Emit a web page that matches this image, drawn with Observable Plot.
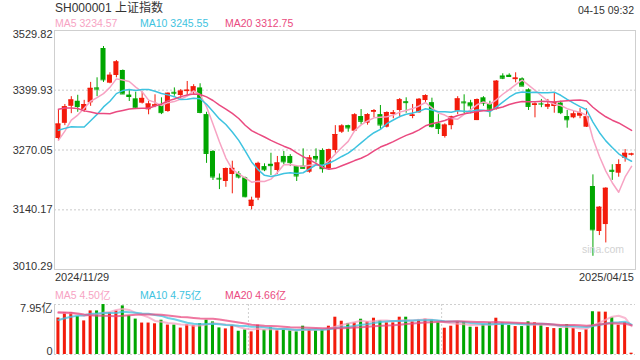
<!DOCTYPE html>
<html><head><meta charset="utf-8">
<script src="https://cdn.jsdelivr.net/npm/d3@7"></script>
<script src="https://cdn.jsdelivr.net/npm/@observablehq/plot@0.6"></script>
<style>
html,body{margin:0;padding:0;background:#fff;}
#wrap{position:relative;width:640px;height:360px;overflow:hidden;font-family:"Liberation Sans",Arial,"Noto Sans CJK SC",sans-serif;color:#333;}
.t{position:absolute;white-space:nowrap;line-height:14px;}
#main{position:absolute;left:0;top:28px;}
#vol{position:absolute;left:0;top:300px;}
</style></head><body>
<div id="wrap">
  <div id="main"></div>
  <div id="vol"></div>
  <div class="t" style="left:55px;top:1px;font-size:12px;color:#333">SH000001 上证指数</div>
  <div class="t" style="right:6px;top:3px;font-size:10.5px;color:#333">04-15 09:32</div>
  <div class="t" id="leg1" style="left:0;top:16px;font-size:10.5px;width:640px"></div>
  <div class="t" style="left:55px;top:270px;font-size:11px;color:#333" id="d0"></div>
  <div class="t" style="right:6px;top:270px;font-size:11px;color:#333" id="d1"></div>
  <div class="t" id="leg2" style="left:0;top:288px;font-size:10.5px;width:640px"></div>
  <div class="t" style="left:582px;top:242px;font-size:10.5px;color:#d2d2d2">sina.com</div>
</div>
<script>
// ---------- data ----------
const dates = [
"2024-11-29",
"2024-12-02","2024-12-03","2024-12-04","2024-12-05","2024-12-06",
"2024-12-09","2024-12-10","2024-12-11","2024-12-12","2024-12-13",
"2024-12-16","2024-12-17","2024-12-18","2024-12-19","2024-12-20",
"2024-12-23","2024-12-24","2024-12-25","2024-12-26","2024-12-27",
"2024-12-30","2024-12-31",
"2025-01-02","2025-01-03",
"2025-01-06","2025-01-07","2025-01-08","2025-01-09","2025-01-10",
"2025-01-13","2025-01-14","2025-01-15","2025-01-16","2025-01-17",
"2025-01-20","2025-01-21","2025-01-22","2025-01-23","2025-01-24",
"2025-01-27",
"2025-02-05","2025-02-06","2025-02-07",
"2025-02-10","2025-02-11","2025-02-12","2025-02-13","2025-02-14",
"2025-02-17","2025-02-18","2025-02-19","2025-02-20","2025-02-21",
"2025-02-24","2025-02-25","2025-02-26","2025-02-27","2025-02-28",
"2025-03-03","2025-03-04","2025-03-05","2025-03-06","2025-03-07",
"2025-03-10","2025-03-11","2025-03-12","2025-03-13","2025-03-14",
"2025-03-17","2025-03-18","2025-03-19","2025-03-20","2025-03-21",
"2025-03-24","2025-03-25","2025-03-26","2025-03-27","2025-03-28",
"2025-03-31",
"2025-04-01","2025-04-02","2025-04-03",
"2025-04-07","2025-04-08","2025-04-09","2025-04-10","2025-04-11",
"2025-04-14","2025-04-15"];

const open = [3295,3328,3365,3376,3356,3372.6,3405,3490.7,3415.3,3432,
 3442.9,3389.5,3381.3,3371.8,3357.4,3365,3366.8,3353.7,3395.5,3388.5,
 3397,3395.7,3405,3347,3266.8,3208.5,3201.6,3216.8,3218,3209.6,
 3147.2,3165.3,3234,3239,3225.5,3256,3256,3234,3235,3221.8,
 3256,3269,3229,3269,3308.7,3323,3310.9,3342.8,3328.3,3352,
 3347,3319.6,3347,3355.9,3375,3343,3350.9,3377.6,3373,3327,
 3299.4,3323,3354.4,3374.5,3372.6,3334,3383.5,3370.5,3358,3431,
 3432.5,3423,3424.8,3400.9,3366.8,3370.5,3363,3364.6,3372,3342.8,
 3340,3343.5,3319.6,3190.7,3092.9,3108,3226,3219.6,3252,3259];

const high = [3358,3369,3386,3389,3378,3417,3427,3495,3438,3464.6,
 3444,3399.4,3395.7,3396,3376,3390,3383.5,3394,3405,3401.5,
 3419,3412,3414,3352,3269,3218,3231,3245.7,3223,3211,
 3167.5,3243.6,3240,3263,3256,3266.8,3260,3236,3272.6,3258,
 3272.6,3272.6,3272,3323,3325,3324,3349,3358,3349,3358,
 3366.8,3353,3355.9,3382,3383.5,3369,3382,3390,3382.7,3347,
 3327,3343.5,3386,3390,3378,3381,3386,3376,3421,3435.7,
 3435.7,3437.9,3427,3403,3372.6,3380,3380,3393.5,3376,3356,
 3354,3360,3359.6,3216,3147,3188,3238,3248.7,3271,3263];

const low = [3290,3323,3349,3352,3352,3365,3386,3417,3414,3427,
 3391,3375.5,3358,3370,3346.6,3362,3347,3352,3387,3381,
 3388.5,3390,3348.8,3241,3203.8,3184,3189,3174.8,3207,3166,
 3140,3160,3223,3214.6,3217,3238.5,3234,3201.6,3229,3219.6,
 3242,3219.6,3226,3263,3306,3308.7,3310,3325,3324,3340,
 3314,3318,3338,3340,3350,3338,3350,3372,3318,3303.7,
 3296,3314,3347,3349,3349,3334,3365,3341,3357,3423,
 3428,3416,3408,3356,3340,3362,3358,3350,3347,3317.5,
 3338,3338,3319,3039,3084,3068,3204,3210.9,3243.6,3257];

const close = [3326.46,3363.98,3378.81,3364.65,3368.86,3404.08,3402.53,3422.66,3432.49,3461.50,
 3391.88,3386.33,3361.49,3382.21,3370.03,3368.07,3351.26,3393.35,3393.53,3398.08,
 3400.14,3407.33,3351.76,3262.56,3211.43,3206.92,3229.64,3230.17,3211.39,3168.52,
 3160.76,3240.94,3227.12,3236.03,3241.82,3244.38,3242.62,3213.62,3230.16,3252.63,
 3250.60,3229.49,3270.66,3303.67,3322.17,3318.06,3346.39,3332.48,3346.72,3355.83,
 3324.49,3351.54,3350.78,3379.11,3373.03,3346.04,3380.21,3388.06,3320.90,3316.93,
 3324.21,3341.96,3381.10,3372.55,3366.16,3379.83,3371.92,3358.73,3419.56,3426.13,
 3429.76,3426.43,3408.95,3364.83,3370.03,3369.98,3368.70,3373.75,3351.31,3335.75,
 3348.44,3350.13,3342.01,3096.58,3145.55,3186.81,3223.64,3238.23,3262.81,3261.36];

// volume, 亿
const volume = [5.8,6.68,6.68,6.04,5.34,6.93,6.93,7.95,6.68,6.93,
 7.73,6.14,5.63,5.0,5.0,4.88,5.45,4.68,4.68,4.2,
 4.74,4.62,4.9,5.45,5.18,4.23,4.07,4.61,3.7,3.91,
 3.6,4.66,3.91,4.23,3.76,3.91,3.76,3.6,4.5,3.97,
 3.76,3.97,4.5,5.93,5.29,4.93,5.03,5.61,5.19,5.77,
 5.35,5.03,5.03,5.93,5.93,5.19,5.45,5.61,5.45,5.03,
 4.18,4.5,5.19,5.19,4.34,4.34,4.77,5.03,5.77,5.03,
 4.6,4.44,4.44,5.19,5.03,4.6,4.28,4.12,4.12,4.76,
 4.13,3.5,3.95,6.8,6.75,6.73,5.85,4.66,5.05,0.21];

// sessions before the window (needed for the moving averages at the left edge)
const priorCloses = [3310.21,3386.99,3383.81,3470.07,3452.30,3470.66,3421.97,3439.28,3379.84,3330.73,
 3323.85,3346.01,3367.99,3370.40,3267.19,3263.76,3259.76,3309.78,3295.70];
const priorVolumes = [7.0,7.6,8.4,8.6,9.0,8.4,8.4,7.6,7.4,6.6,4.0,4.2,4.4,4.6,4.8,6.6,6.9,6.9,6.8];

const yTicks = [3010.29, 3140.17, 3270.05, 3399.93, 3529.82];
const volMax = 7.95;
const maPeriods = [5, 10, 20];
const maNames = ["MA5", "MA10", "MA20"];
const maColors = ["#f7a3c3", "#3ec3e0", "#ea4a80"];
const maPriceLabels = ["3234.57", "3245.55", "3312.75"];
const maVolLabels = ["4.50亿", "4.75亿", "4.66亿"];

// ---------- build ----------
const UP = "#f31b0b", DOWN = "#00a600";
const FONT = '"Liberation Sans", Arial, "Noto Sans CJK SC", sans-serif';
const rows = dates.map((d, i) => ({date: d, open: open[i], high: high[i], low: low[i], close: close[i], vol: volume[i], up: close[i] >= open[i]}));
const upRows = rows.filter(d => d.up), downRows = rows.filter(d => !d.up);

function movingAvg(prior, vals, k) {
  const all = prior.concat(vals);
  return vals.map((_, i) => d3.mean(all.slice(i + prior.length - k + 1, i + prior.length + 1)));
}
const maLines = maPeriods.map((k, j) => movingAvg(priorCloses, close, k).map((v, i) => ({date: dates[i], v, s: maNames[j]})));
const vmaLines = maPeriods.map((k, j) => movingAvg(priorVolumes, volume, k).map((v, i) => ({date: dates[i], v, s: maNames[j]})));

const xOpt = {domain: dates, padding: 0.22, axis: null};
const grid = {stroke: "#dcdcdc", strokeWidth: 1.6, strokeDasharray: "2,2"};

const main = Plot.plot({
  width: 640, height: 244,
  marginLeft: 54, marginRight: 5, marginTop: 2, marginBottom: 3,
  x: xOpt,
  y: {domain: [yTicks[0], yTicks[4]], axis: null},
  style: {fontFamily: FONT, fontSize: "11px", color: "#333", background: "transparent", overflow: "visible"},
  marks: [
    Plot.ruleY(yTicks.slice(1, 4), grid),
    Plot.frame({stroke: "#cfcfcf"}),
    Plot.ruleX(upRows, {x: "date", y1: "low", y2: "high", stroke: UP}),
    Plot.ruleX(downRows, {x: "date", y1: "low", y2: "high", stroke: DOWN}),
    Plot.barY(upRows, {x: "date", y1: "open", y2: "close", fill: UP}),
    Plot.barY(downRows, {x: "date", y1: "open", y2: "close", fill: DOWN}),
    Plot.tickY(upRows, {x: "date", y: "close", stroke: UP}),
    Plot.tickY(downRows, {x: "date", y: "close", stroke: DOWN}),
    ...maLines.map((L, j) => Plot.lineY(L, {x: "date", y: "v", stroke: maColors[j], strokeWidth: 1.5})),
    Plot.text([yTicks[4]], {y: d => d, text: d => d.toFixed(2), frameAnchor: "left", textAnchor: "end", dx: -2, lineAnchor: "top", fill: "#333"}),
    Plot.text(yTicks.slice(1, 4), {y: d => d, text: d => d.toFixed(2), frameAnchor: "left", textAnchor: "end", dx: -2, lineAnchor: "middle", fill: "#333"}),
    Plot.text([yTicks[0]], {y: d => d, text: d => d.toFixed(2), frameAnchor: "left", textAnchor: "end", dx: -2, lineAnchor: "bottom", fill: "#333"})
  ]
});
document.getElementById("main").append(main);

const vol = Plot.plot({
  width: 640, height: 58,
  marginLeft: 54, marginRight: 5, marginTop: 4, marginBottom: 4,
  x: xOpt,
  y: {domain: [0, volMax], axis: null},
  style: {fontFamily: FONT, fontSize: "11px", color: "#333", background: "transparent", overflow: "visible"},
  marks: [
    Plot.ruleY([volMax, 0], {stroke: "#cfcfcf", strokeDasharray: "2,2"}),
    Plot.ruleX([dates[30], dates[60]], {dx: -3.2, stroke: "#cfcfcf", strokeDasharray: "2,2"}),
    Plot.frame({anchor: "left", stroke: "#cfcfcf"}),
    Plot.barY(upRows, {x: "date", y: "vol", fill: UP, insetLeft: 1, insetRight: 1}),
    Plot.barY(downRows, {x: "date", y: "vol", fill: DOWN, insetLeft: 1, insetRight: 1}),
    ...vmaLines.map((L, j) => Plot.lineY(L, {x: "date", y: "v", stroke: maColors[j], strokeWidth: 2, strokeOpacity: 0.75})),
    Plot.text([volMax], {y: d => d, text: d => d.toFixed(2) + "亿", frameAnchor: "left", textAnchor: "end", dx: -2, lineAnchor: "top", fill: "#333"}),
    Plot.text([0], {y: d => d, text: d => String(d), frameAnchor: "left", textAnchor: "end", dx: -2, lineAnchor: "bottom", fill: "#333"})
  ]
});
document.getElementById("vol").append(vol);

// legends and date labels
const legX = [55, 140, 225];
function legend(el, labels) {
  labels.forEach((lab, j) => {
    const s = document.createElement("span");
    s.textContent = maNames[j] + " " + lab;
    s.style.cssText = `position:absolute;left:${legX[j]}px;top:0;color:${maColors[j]}`;
    el.append(s);
  });
}
legend(document.getElementById("leg1"), maPriceLabels);
legend(document.getElementById("leg2"), maVolLabels);
document.getElementById("d0").textContent = dates[0].replace(/-/g, "/");
document.getElementById("d1").textContent = dates[dates.length - 1].replace(/-/g, "/");
</script>
</body></html>
